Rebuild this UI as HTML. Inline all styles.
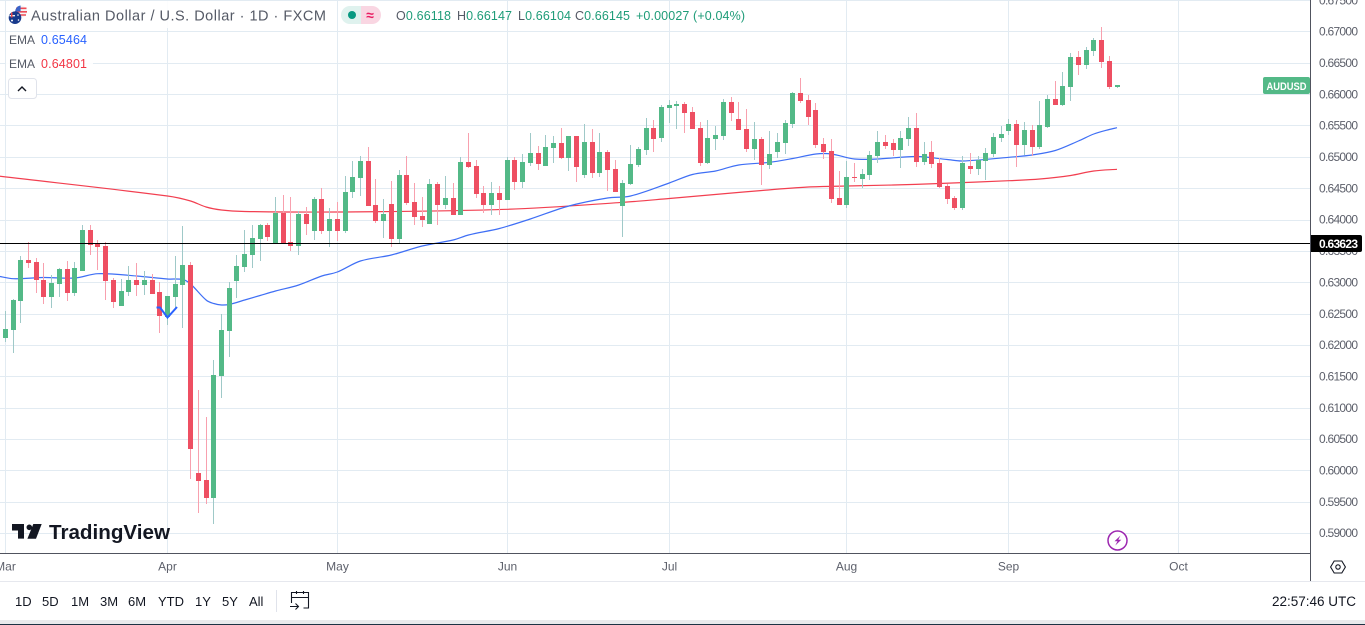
<!DOCTYPE html>
<html lang="en">
<head>
<meta charset="utf-8">
<title>AUD/USD TradingView Chart</title>
<style>
html,body{margin:0;padding:0;background:#fff;width:1365px;height:625px;overflow:hidden}
svg{display:block;font-family:"Liberation Sans","DejaVu Sans",sans-serif}
</style>
</head>
<body>
<svg id="chart" width="1365" height="625" viewBox="0 0 1365 625" xmlns="http://www.w3.org/2000/svg">
  <rect x="0" y="0" width="1365" height="625" fill="#ffffff"/>
  <g id="grid"></g>
  <g id="emaLines"></g>
  <g id="candles"></g>

  <polyline points="156.5,307.5 160,307.5 167.5,317.5 177,307" fill="none" stroke="#2962ff" stroke-width="2"/>
  <rect x="0" y="243" width="1310" height="1" fill="#000000"/>

  <g>
    <rect x="6" y="1" width="322" height="27" fill="#ffffff" opacity="0.88"/>
    <rect x="6" y="33" width="87" height="42" fill="#ffffff" opacity="0.88"/>
    <g>
      <circle cx="21" cy="11.5" r="6" fill="#f4f4f4"/>
      <path d="M16 7.5h10.5v1.6H16zM15 11h12v1.6H15zM16 14.2h10v1.6H16z" fill="#ef4b56"/>
      <path d="M15.2 11.5a6 6 0 0 1 5.4-6V11.5z" fill="#3a63c8"/>
      <circle cx="15" cy="17.7" r="6.3" fill="#183a8c"/>
      <path d="M9.5 15h5.5v1.4H9.5z" fill="#f2f2f2"/>
      <path d="M11 12.5h1.5v5H11z" fill="#e44"/>
      <circle cx="12" cy="20.5" r="1" fill="#fff"/><circle cx="18" cy="15" r=".8" fill="#fff"/><circle cx="18.5" cy="20" r=".8" fill="#fff"/>
    </g>
    <text x="31" y="20.5" font-size="14.5" fill="#555a66" textLength="295" lengthAdjust="spacing">Australian Dollar / U.S. Dollar · 1D · FXCM</text>
    <g>
      <path d="M361 6h-11a9 9 0 0 0 0 18h11z" fill="#dff2ee"/>
      <path d="M361 6h11a9 9 0 0 1 0 18h-11z" fill="#f9d6e2"/>
      <circle cx="352" cy="15" r="4" fill="#089981"/>
      <text x="370" y="20" font-size="14" fill="#e91e63" text-anchor="middle" font-weight="bold">≈</text>
    </g>
    <g font-size="12.5" fill="#1e9c78">
      <text x="396" y="20" textLength="55" lengthAdjust="spacing"><tspan fill="#555a66">O</tspan>0.66118</text>
      <text x="457" y="20" textLength="55" lengthAdjust="spacing"><tspan fill="#555a66">H</tspan>0.66147</text>
      <text x="518" y="20" textLength="53" lengthAdjust="spacing"><tspan fill="#555a66">L</tspan>0.66104</text>
      <text x="575" y="20" textLength="55" lengthAdjust="spacing"><tspan fill="#555a66">C</tspan>0.66145</text>
      <text x="636" y="20" textLength="109" lengthAdjust="spacing">+0.00027 (+0.04%)</text>
    </g>
    <text x="9" y="44" font-size="12" fill="#555a66">EMA</text>
    <text x="41" y="44" font-size="12.5" fill="#2962ff" textLength="46" lengthAdjust="spacing">0.65464</text>
    <text x="9" y="68" font-size="12" fill="#555a66">EMA</text>
    <text x="41" y="68" font-size="12.5" fill="#f23645" textLength="46" lengthAdjust="spacing">0.64801</text>
    <g>
      <rect x="8.5" y="78.5" width="28" height="20" rx="3" fill="#ffffff" stroke="#e0e3eb"/>
      <path d="M18 91l4-4 4 4" fill="none" stroke="#131722" stroke-width="1.4"/>
    </g>
  </g>

  <g>
    <path d="M12 524h12v14.6h-6V530.5h-6zM33.3 524h8.4L36 538.7h-8.6z" fill="#131722"/>
    <circle cx="29.3" cy="527.3" r="2.8" fill="#131722"/>
    <text x="49" y="539" font-size="20.5" font-weight="bold" fill="#131722" textLength="121" lengthAdjust="spacingAndGlyphs">TradingView</text>
  </g>

  <g>
    <circle cx="1117.5" cy="540.5" r="9.5" fill="#ffffff" stroke="#9c27b0" stroke-width="1.5"/>
    <path d="M1120.5 535.5l-6 5.8h3l-2.2 4.2 6-5.8h-3z" fill="#9c27b0"/>
  </g>

  <rect x="1263" y="77" width="47" height="17" rx="2" fill="#53b987"/>
  <text x="1286.5" y="90" font-size="11" font-weight="bold" fill="#ffffff" text-anchor="middle" textLength="40" lengthAdjust="spacingAndGlyphs">AUDUSD</text>

  <g id="priceAxis"></g>
  <g id="timeAxis"></g>

  <path d="M1311 235h49a2 2 0 0 1 2 2v13a2 2 0 0 1-2 2h-49z" fill="#000000"/>
  <text x="1319" y="248" font-size="12" font-weight="bold" fill="#ffffff" textLength="39" lengthAdjust="spacing">0.63623</text>

  <rect x="1310" y="0" width="1" height="581" fill="#50535e"/>
  <rect x="0" y="553" width="1311" height="1" fill="#50535e"/>
  <rect x="0" y="581" width="1365" height="1" fill="#e6e8ee"/>

  <g fill="none" stroke="#131722" stroke-width="1.1">
    <path d="M1334.2 561h7.6l3.6 6-3.6 6h-7.6l-3.6-6z"/>
    <circle cx="1338" cy="567" r="2.2"/>
  </g>

  <g font-size="13" fill="#131722">
    <text x="15" y="606">1D</text>
    <text x="42" y="606">5D</text>
    <text x="71" y="606">1M</text>
    <text x="100" y="606">3M</text>
    <text x="128" y="606">6M</text>
    <text x="158" y="606">YTD</text>
    <text x="195" y="606">1Y</text>
    <text x="222" y="606">5Y</text>
    <text x="249" y="606">All</text>
    <rect x="276" y="590" width="1" height="22" fill="#e0e3eb"/>
    <g fill="none" stroke="#131722" stroke-width="1.1">
      <path d="M291.5 603v-10.5h17v15.5h-5M291.5 597.5h17M296.5 591v3M303.5 591v3"/>
      <path d="M290 606.5h8M295.5 603.5l3 3-3 3"/>
    </g>
    <text x="1356" y="606" font-size="13.5" text-anchor="end" textLength="84" lengthAdjust="spacing">22:57:46 UTC</text>
  </g>

  <rect x="0" y="620" width="1365" height="4" fill="#e9eaec"/>
  <rect x="0" y="624" width="1365" height="1" fill="#1c3244"/>
</svg>

<script>
// Candle values by bar (Mar through mid-Sep)
var open = [.62110,.62238,.62700,.63354,.63322,.63035,.62764,.62971,.63211,.62828,
.63179,.63833,.63609,.63578,.63035,.62621,.62844,.63035,.62955,.63035,
.62844,.62445,.62764,.62955,.63275,.59957,.59845,.59558,.61504,.62222,
.63019,.63243,.63434,.63689,.63912,.63625,.64104,.63641,.63578,.64088,
.63817,.64327,.63817,.64008,.63817,.64439,.64662,.64933,.64231,.63976,
.64247,.63689,.64710,.64279,.64056,.63928,.64566,.64231,.64343,.64072,
.64917,.64854,.64423,.64231,.64423,.64311,.64949,.64598,.64901,.65061,
.64854,.65140,.65220,.64981,.65332,.64710,.65236,.64742,.65077,.64806,
.64215,.64566,.64869,.65109,.65459,.65300,.65779,.65810,.65842,.65715,
.65459,.64901,.65284,.65332,.65874,.65603,.65443,.65125,.65284,.64869,
.65077,.65220,.65523,.66018,.65906,.65747,.65204,.65093,.64343,.64231,
.64678,.64646,.64710,.65013,.65236,.65220,.65109,.65284,.65459,.64917,
.65077,.64901,.64535,.64343,.64184,.64854,.64806,.64933,.65045,.65300,
.65412,.65523,.65188,.65427,.65156,.65475,.65922,.65826,.66113,.66592,
.66464,.66688,.66863,.66528,.66118];
var high = [.62541,.62732,.63418,.63641,.63386,.63306,.63115,.63227,.63338,.63322,
.63912,.63912,.63673,.63641,.63067,.63051,.63259,.63306,.63179,.63131,
.63003,.62780,.63418,.63897,.63322,.61281,.60850,.61759,.62493,.63003,
.63434,.63833,.63912,.63928,.63944,.64359,.64391,.64359,.64136,.64200,
.64359,.64503,.64184,.64279,.64694,.64933,.65013,.65156,.64646,.64327,
.64614,.64790,.65013,.64582,.64359,.64646,.64598,.64694,.64582,.64997,
.65380,.64949,.64535,.64598,.64535,.64997,.64997,.65045,.65380,.65172,
.65348,.65332,.65459,.65332,.65332,.65523,.65443,.65380,.65109,.64949,
.64630,.65188,.65156,.65619,.65587,.65826,.65906,.65890,.65874,.65794,
.65555,.65587,.65491,.65922,.65954,.65874,.65763,.65555,.65316,.65412,
.65380,.65587,.66034,.66257,.65986,.65858,.65300,.65284,.64774,.64933,
.64901,.64806,.65093,.65412,.65348,.65284,.65412,.65635,.65699,.65236,
.65252,.64981,.64566,.64375,.65013,.65061,.65013,.65140,.65380,.65491,
.65603,.65587,.65555,.65507,.65890,.65986,.66209,.66353,.66656,.66688,
.66751,.66895,.67070,.66608,.66147];
var low = [.62046,.61871,.62349,.63227,.62828,.62652,.62589,.62764,.62700,.62780,
.63179,.63434,.63195,.62716,.62589,.62621,.62780,.62780,.62796,.62812,
.62190,.62317,.62573,.62270,.59861,.59319,.59463,.59144,.61153,.61807,
.62748,.63163,.63227,.63338,.63657,.63625,.63625,.63498,.63434,.63753,
.63673,.63769,.63562,.63657,.63785,.64343,.64375,.64215,.63944,.63705,
.63562,.63609,.64231,.63912,.63880,.63928,.63912,.64168,.64072,.64072,
.64822,.64343,.64104,.64072,.64072,.64311,.64471,.64503,.64854,.64790,
.64854,.64901,.64965,.64774,.64598,.64662,.64662,.64678,.64455,.64439,
.63721,.64550,.64838,.65029,.65077,.65236,.65539,.65444,.65380,.65444,
.64854,.64885,.65109,.65268,.65571,.65427,.65077,.64949,.64550,.64806,
.64981,.65045,.65459,.65858,.65507,.65141,.64965,.64263,.64231,.64184,
.64598,.64503,.64630,.64901,.65125,.65013,.64822,.65172,.64838,.64869,
.64822,.64503,.64247,.64152,.64152,.64726,.64710,.64630,.64997,.65236,
.65348,.64838,.65029,.65013,.65125,.65459,.65826,.65810,.65890,.66305,
.66400,.66608,.66416,.66082,.66104];
var close = [.62254,.62716,.63354,.63306,.63035,.62764,.62987,.63211,.62828,.63227,
.63833,.63594,.63562,.63019,.62684,.62860,.63035,.62955,.63035,.62812,
.62461,.62780,.62971,.63275,.60340,.59829,.59558,.61520,.62238,.62908,
.63259,.63450,.63705,.63912,.63721,.64104,.63625,.63578,.64088,.63928,
.64327,.63817,.64008,.63817,.64439,.64678,.64933,.64215,.63976,.64088,
.63689,.64710,.64263,.64040,.63992,.64566,.64231,.64343,.64072,.64917,
.64838,.64407,.64231,.64423,.64311,.64949,.64598,.64917,.65061,.64885,
.65156,.65220,.64981,.65332,.64838,.65236,.64742,.65077,.64790,.64439,
.64582,.64885,.65125,.65459,.65284,.65794,.65826,.65842,.65699,.65444,
.64901,.65300,.65348,.65874,.65699,.65427,.65125,.65284,.64869,.65045,
.65236,.65539,.66018,.65890,.65635,.65188,.65077,.64327,.64231,.64678,
.64662,.64726,.65029,.65236,.65172,.65109,.65300,.65459,.64917,.65045,
.64885,.64519,.64327,.64184,.64901,.64806,.64949,.65061,.65316,.65364,
.65523,.65188,.65427,.65156,.65507,.65922,.65826,.66129,.66592,.66464,
.66704,.66863,.66512,.66113,.66145];

// Fast EMA readings: bar number and value
var emaFastBars = [-1,1,5,9,12,17,21,23,24,26,27,28,29,31,33,35,38,41,43,46,50,54,58,60,64,68,73,78,81,86,89,92,95,99,102,105,107,110,113,118,122,124,130,133,136,139,141,143,144];
var emaFastValues = [.63099,.63056,.63075,.63067,.63136,.63099,.63051,.63043,.62971,.62716,.62660,.62637,.62645,.62716,.62788,.62860,.62955,.63099,.63163,.63338,.63434,.63578,.63673,.63753,.63857,.64008,.64215,.64343,.64375,.64582,.64718,.64774,.64869,.64912,.64973,.65045,.65045,.64965,.64965,.65005,.64957,.64933,.64992,.65029,.65101,.65252,.65364,.65436,.65464];

// Slow EMA readings: bar number and value
var emaSlowBars = [-1,21,24,26,28,31,43,65,80,86,98,104,109,115,121,130,134,138,141,144];
var emaSlowValues = [.64694,.64375,.64295,.64200,.64152,.64128,.64120,.64163,.64274,.64335,.64463,.64519,.64535,.64550,.64574,.64619,.64646,.64702,.64774,.64801];

// Axis ticks
var priceTicks = [.59,.595,.6,.605,.61,.615,.62,.625,.63,.635,.64,.645,.65,.655,.66,.665,.67,.675];
var monthLabels = ['Mar','Apr','May','Jun','Jul','Aug','Sep','Oct'];
var monthBars = [0,21,43,65,86,109,130,152];

var SVGNS = 'http://www.w3.org/2000/svg';
function xAt(bar){ return 5.33 + 7.72 * bar; }
function yAt(price){ return 31.4 + (0.67 - price) * 6270; }
function make(tag, parent, attrs){
  var el = document.createElementNS(SVGNS, tag);
  for (var k in attrs) el.setAttribute(k, attrs[k]);
  parent.appendChild(el);
  return el;
}

var grid = document.getElementById('grid');
var priceAxis = document.getElementById('priceAxis');
var timeAxis = document.getElementById('timeAxis');
var candles = document.getElementById('candles');
var emaLines = document.getElementById('emaLines');

priceTicks.forEach(function(p){
  var y = Math.round(yAt(p));
  var line = make('rect', grid, {x:0, y:y, width:1310, height:1, fill:'#e2ebf2'});
  
  
  var label = make('text', priceAxis, {x:1319, y:yAt(p) + 4.2, 'font-size':12, fill:'#5d606b', textLength:39, lengthAdjust:'spacing'});
  
  
  label.textContent = p.toFixed(5);
});

monthBars.forEach(function(bar, i){
  var x = Math.floor(xAt(bar));
  var line = make('rect', grid, {x:x, y:0, width:1, height:553, fill:'#e2ebf2'});
  
  
  var label = make('text', timeAxis, {x:x + 0.5, y:570.5, 'font-size':12, fill:'#5d606b', 'text-anchor':'middle'});
  
  
  label.textContent = monthLabels[i];
});

function smoothPath(bars, values){
  var p = bars.map(function(b, i){ return [xAt(b), yAt(values[i])]; });
  var d = 'M' + p[0][0].toFixed(1) + ' ' + p[0][1].toFixed(1);
  for (var i = 0; i < p.length - 1; i++){
    var a = p[Math.max(0, i - 1)], b = p[i], c = p[i + 1], e = p[Math.min(p.length - 1, i + 2)];
    var t = (c[0] - b[0]) / 3;
    var m1 = (c[1] - a[1]) / (c[0] - a[0]);
    var m2 = (e[1] - b[1]) / (e[0] - b[0]);
    d += 'C' + (b[0] + t).toFixed(1) + ' ' + (b[1] + m1 * t).toFixed(1) + ' ' +
         (c[0] - t).toFixed(1) + ' ' + (c[1] - m2 * t).toFixed(1) + ' ' +
         c[0].toFixed(1) + ' ' + c[1].toFixed(1);
  }
  return d;
}
function drawEma(bars, values, color, name){
  var line = make('path', emaLines, {d:smoothPath(bars, values), fill:'none', stroke:color, 'stroke-width':1.2, 'stroke-linejoin':'round'});
  
  
}
drawEma(emaSlowBars, emaSlowValues, '#f23f50', 'ema-slow-line');
drawEma(emaFastBars, emaFastValues, '#3f6ff5', 'ema-fast-line');

open.forEach(function(o, i){
  var c = close[i];
  var up = c >= o;
  var px = Math.floor(xAt(i));
  var wickTop = Math.round(yAt(high[i]));
  var wickBot = Math.round(yAt(low[i]));
  var bodyTop = Math.round(yAt(Math.max(o, c)));
  var bodyBot = Math.round(yAt(Math.min(o, c)));
  var g = make('g', candles, {'shape-rendering':'crispEdges'});
  
  
  var wick = make('rect', g, {x:px, y:wickTop, width:1, height:Math.max(1, wickBot - wickTop), fill: up ? '#9fc9c8' : '#f8a0ae'});
  
  
  var body = make('rect', g, {x:px - 2, y:bodyTop, width:5, height:Math.max(1, bodyBot - bodyTop), fill: up ? '#53b987' : '#ee4f62'});
  
  
});
</script>
</body>
</html>
